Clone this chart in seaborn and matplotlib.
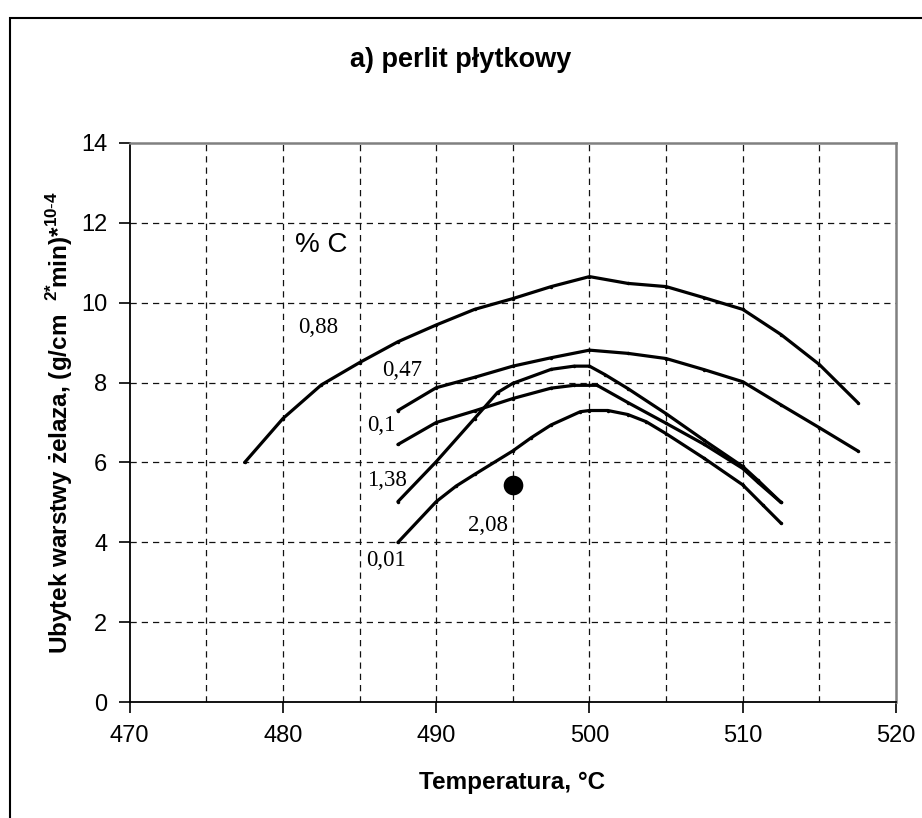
import matplotlib
matplotlib.use("Agg")
import matplotlib.pyplot as plt
import seaborn as sns
import pandas as pd
import numpy as np

# ---------------- data ----------------
series_names = ["0,88", "0,47", "0,1", "1,38", "0,01"]

t_088 = [477.5, 480, 482.5, 485, 487.5, 490, 492.5, 495, 497.5, 500, 502.5, 505, 507.5, 510, 512.5, 515, 517.5]
v_088 = [6.0, 7.1, 7.94, 8.5, 9.02, 9.44, 9.83, 10.1, 10.4, 10.65, 10.48, 10.4, 10.12, 9.83, 9.2, 8.45, 7.5]

t_047 = [487.5, 490, 492.5, 495, 497.5, 500, 502.5, 505, 507.5, 510, 512.5, 515, 517.5]
v_047 = [7.3, 7.87, 8.13, 8.41, 8.62, 8.81, 8.73, 8.6, 8.32, 8.02, 7.44, 6.87, 6.29]

t_01 = [487.5, 490, 492.5, 495, 497.5, 499, 500.5, 502.5, 505, 507.5, 510, 511, 512.5]
v_01 = [6.45, 7.0, 7.29, 7.6, 7.86, 7.93, 7.93, 7.5, 6.98, 6.45, 5.85, 5.5, 5.0]

t_138 = [487.5, 490, 492.5, 494, 495, 497.5, 499, 500, 501, 502.5, 505, 507.5, 510, 511, 512.5]
v_138 = [5.02, 6.02, 7.1, 7.75, 7.98, 8.33, 8.41, 8.41, 8.2, 7.85, 7.22, 6.55, 5.9, 5.55, 5.0]

t_001 = [487.5, 490, 491.3, 492.5, 495, 496.2, 497.5, 499.4, 500, 501.2, 502.5, 503.7, 505, 507.5, 510, 511.3, 512.5]
v_001 = [4.0, 5.02, 5.41, 5.7, 6.29, 6.62, 6.94, 7.27, 7.3, 7.3, 7.2, 7.02, 6.72, 6.1, 5.44, 4.94, 4.48]

point_208_t = [495.0]
point_208_v = [5.44]

label_names = ["0,88", "0,47", "0,1", "1,38", "2,08", "0,01"]
label_t = [482.3, 487.8, 486.4, 486.8, 493.4, 486.7]
label_v = [9.38, 8.3, 6.92, 5.56, 4.42, 3.54]

x_ticks = [470, 480, 490, 500, 510, 520]
y_ticks = [0, 2, 4, 6, 8, 10, 12, 14]

title = "a) perlit płytkowy"
x_label = "Temperatura, °C"
y_label = r"Ubytek warstwy żelaza, (g/cm  $^{\mathbf{2{*}}}\!$min)*$^{\mathbf{10\text{-}4}}$"

# ---------------- frame ----------------
rows = []
for name, ts, vs in zip(series_names, [t_088, t_047, t_01, t_138, t_001],
                        [v_088, v_047, v_01, v_138, v_001]):
    for t, v in zip(ts, vs):
        rows.append({"temp": t, "rate": v, "series": name})
df = pd.DataFrame(rows)
df_pt = pd.DataFrame({"temp": point_208_t, "rate": point_208_v})

sns.set_theme(style="white")
plt.rcParams["font.family"] = ["Liberation Sans", "DejaVu Sans"]
plt.rcParams["mathtext.fontset"] = "custom"
plt.rcParams["mathtext.rm"] = "Liberation Sans"
plt.rcParams["mathtext.bf"] = "Liberation Sans:bold"
plt.rcParams["text.color"] = "black"
plt.rcParams["axes.labelcolor"] = "black"
plt.rcParams["xtick.color"] = "black"
plt.rcParams["ytick.color"] = "black"

W, H = 922, 818
fig = plt.figure(figsize=(W / 100, H / 100), dpi=100)
L, R, T, B = 129.7, 896.0, 142.7, 702.3
ax = fig.add_axes([L / W, 1 - B / H, (R - L) / W, (B - T) / H])

sns.lineplot(data=df, x="temp", y="rate", hue="series", units="series",
             estimator=None, sort=False,
             palette={n: "black" for n in series_names},
             linewidth=2.3, marker="o", markersize=2.5, markeredgewidth=0,
             legend=False, ax=ax, zorder=3)
sns.scatterplot(data=df_pt, x="temp", y="rate", color="black", s=200,
                edgecolor="black", linewidth=0, ax=ax, zorder=4, legend=False)

for name, t, v in zip(label_names, label_t, label_v):
    ax.text(t, v, name, ha="center", va="center", fontsize=16.5,
            family=["Liberation Serif", "DejaVu Serif"], color="black", zorder=5)
ax.text(482.5, 11.43, "% C", ha="center", va="center", fontsize=20, color="black")

ax.set_xlim(470, 520)
ax.set_ylim(0, 14)
ax.set_xticks(x_ticks)
ax.set_yticks(y_ticks)
ax.set_xticks(np.arange(475, 520, 5), minor=True)
ax.set_yticks(np.arange(2, 14, 2), minor=True)
ax.xaxis.remove_overlapping_locs = False
ax.yaxis.remove_overlapping_locs = False
ax.tick_params(which="major", direction="out", length=8, width=1.2, color="black",
               labelsize=17, labelcolor="black", bottom=True, left=True, pad=8)
ax.tick_params(which="minor", length=0, bottom=True, left=True)
ax.grid(which="minor", color="#111111", linestyle=(0, (5, 4)), linewidth=0.9)
ax.grid(which="major", visible=False)
ax.set_axisbelow(True)

for s in ["left", "bottom"]:
    ax.spines[s].set_color("black")
    ax.spines[s].set_linewidth(1.3)
for s in ["top", "right"]:
    ax.spines[s].set_color("#808080")
    ax.spines[s].set_linewidth(1.8)
    ax.spines[s].set_visible(True)

ax.set_xlabel(x_label, fontsize=17.5, fontweight="bold", color="black")
ax.set_ylabel(y_label, fontsize=17.5, fontweight="bold", color="black")
ax.xaxis.set_label_coords((512.5 - L) / (R - L), (B - 783) / (B - T))
ax.xaxis.label.set_va("center")
ax.yaxis.set_label_coords((60 - L) / (R - L), 0.5)
ax.yaxis.label.set_va("center")

fig.text(461 / W, 1 - 60 / H, title, ha="center", va="center",
         fontsize=19.5, fontweight="bold", color="black")

frame = plt.Rectangle((10 / W, -0.1), 1.2, 1.1 - 18 / H, transform=fig.transFigure,
                      fill=False, edgecolor="black", linewidth=1.5)
fig.add_artist(frame)

fig.savefig("out.png", dpi=100)
